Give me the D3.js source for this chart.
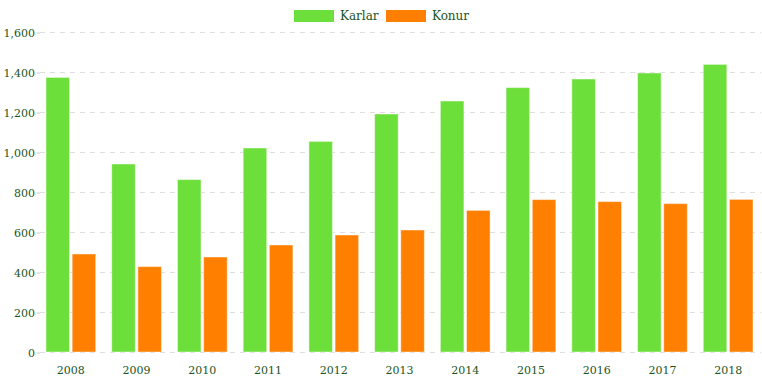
<!DOCTYPE html>
<html><head><meta charset="utf-8">
<script src="https://cdn.jsdelivr.net/npm/d3@7"></script>
<style>body{margin:0;background:#fff;}svg{display:block;}</style>
</head><body>
<svg id="c" width="762" height="381"></svg>
<script>
const years = ["2008","2009","2010","2011","2012","2013","2014","2015","2016","2017","2018"];
const karlar = [1373, 940, 862, 1020, 1053, 1190, 1255, 1322, 1365, 1395, 1438];
const konur = [490, 427, 475, 535, 585, 610, 708, 762, 752, 742, 763];
const seriesNames = ["Karlar", "Konur"];
const colors = ["#6ddf3a", "#ff7f00"];
const yTicks = [0, 200, 400, 600, 800, 1000, 1200, 1400, 1600];

const svg = d3.select("#c");
const font = "DejaVu Serif";
const textColor = "#1b5524";
const m = {left: 38, right: 761, top: 32, bottom: 352};

const x = d3.scaleBand().domain(years).range([m.left, m.right]).paddingInner(0).paddingOuter(0);
const y = d3.scaleLinear().domain([0, 1600]).range([m.bottom, m.top]);
const xs = d3.scaleBand().domain(seriesNames).range([8, x.bandwidth() - 8]).paddingInner(0.1);

// gridlines
svg.append("g").selectAll("line").data(yTicks).join("line")
  .attr("x1", m.left + 2).attr("x2", m.right)
  .attr("y1", d => y(d) + 0.5).attr("y2", d => y(d) + 0.5)
  .attr("stroke", "#dedede").attr("stroke-dasharray", "5,5");

// y axis
const yAxis = svg.append("g").attr("transform", `translate(${m.left + 2},0.5)`)
  .call(d3.axisLeft(y).tickValues(yTicks).tickSize(3).tickPadding(2).tickFormat(d3.format(",")));
yAxis.select(".domain").remove();
yAxis.selectAll("line").attr("stroke", "#cfcfcf");
yAxis.selectAll("text").attr("fill", textColor).style("font-family", font).style("font-size", "11px");

// x axis
const xAxis = svg.append("g").attr("transform", `translate(0,${m.bottom})`)
  .call(d3.axisBottom(x).tickSize(0).tickPadding(14));
xAxis.select(".domain").remove();
xAxis.selectAll("text").attr("fill", textColor).style("font-family", font).style("font-size", "11px");

// bars
const data = [karlar, konur];
data.forEach((vals, si) => {
  svg.append("g").selectAll("rect").data(years).join("rect")
    .attr("x", (d) => x(d) + xs(seriesNames[si]))
    .attr("width", xs.bandwidth())
    .attr("y", (d, i) => y(vals[i]))
    .attr("height", (d, i) => y(0) - y(vals[i]))
    .attr("fill", colors[si])
    .attr("stroke", "rgba(255,255,255,0.45)")
    .attr("stroke-width", 1);
});

// legend
const legend = svg.append("g");
const lx = [294, 386];
seriesNames.forEach((n, i) => {
  legend.append("rect").attr("x", lx[i]).attr("y", 10).attr("width", 40).attr("height", 12)
    .attr("fill", colors[i]);
  legend.append("text").attr("x", lx[i] + 46).attr("y", 20).text(n)
    .attr("fill", textColor).style("font-family", font).style("font-size", "12px");
});
</script>
</body></html>
